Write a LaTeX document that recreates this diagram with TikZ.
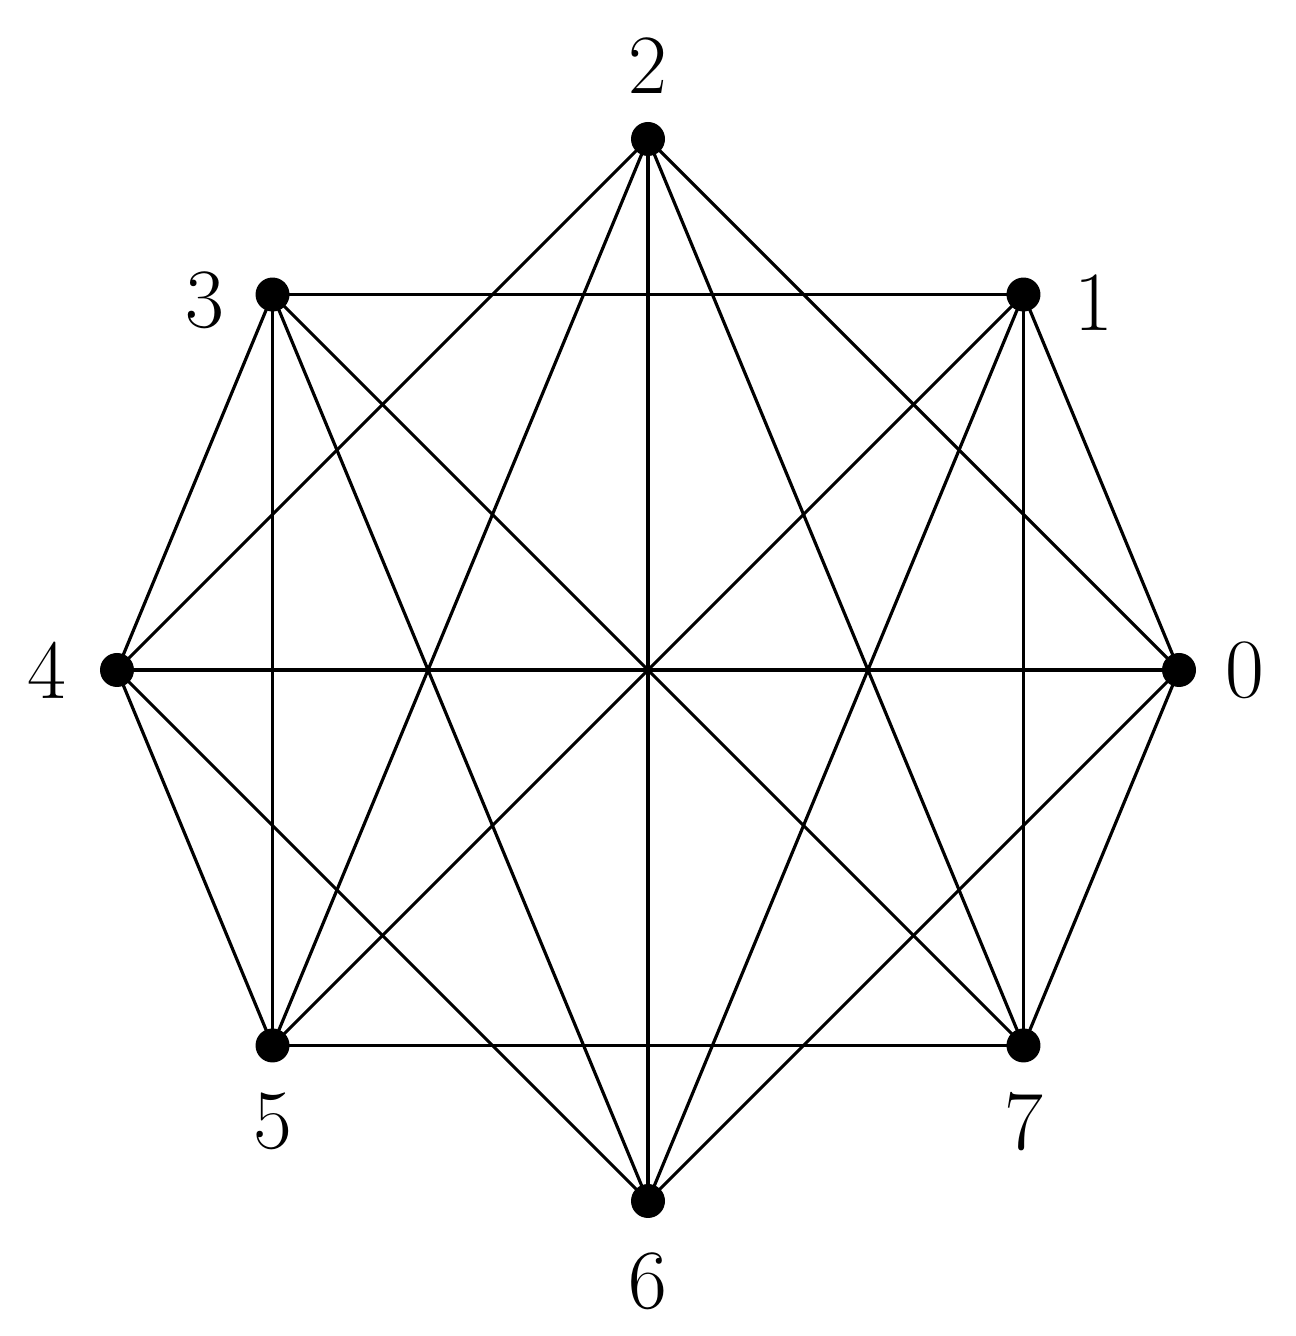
\documentclass[tikz,border=0pt]{standalone}
\usetikzlibrary{calc}
\begin{document}
\begin{tikzpicture}[
  dot/.style={circle,fill=black,inner sep=0pt,minimum size=0.34cm},
  lbl/.style={font=\fontsize{24}{28}\selectfont},
  edge/.style={line width=0.9pt}]
\useasboundingbox (0,0) rectangle (12.96,13.36);
\coordinate (c) at (6.48,6.66);
\foreach \i in {0,...,7}{
  \node[dot] (n\i) at ($(c)+(\i*45:5.31)$) {};
}
\node[lbl] (l0) at ($(n0)+(0.66,0)$) {0};
\node[lbl] (l1) at ($(n1)+(0.70,-0.08)$) {1};
\node[lbl] (l2) at ($(n2)+(0,0.73)$) {2};
\node[lbl] (l3) at ($(n3)+(-0.68,-0.06)$) {3};
\node[lbl] (l4) at ($(n4)+(-0.70,0)$) {4};
\node[lbl] (l5) at ($(n5)+(0,-0.76)$) {5};
\node[lbl] (l6) at ($(n6)+(0,-0.80)$) {6};
\node[lbl] (l7) at ($(n7)+(0,-0.76)$) {7};
\foreach \a/\b in {0/1,0/2,0/4,0/6,0/7,1/3,1/5,1/6,1/7,2/4,2/5,2/6,2/7,3/4,3/5,3/6,3/7,4/5,4/6,5/7}
  \draw[edge] (n\a.center) -- (n\b.center);
\end{tikzpicture}
\end{document}
